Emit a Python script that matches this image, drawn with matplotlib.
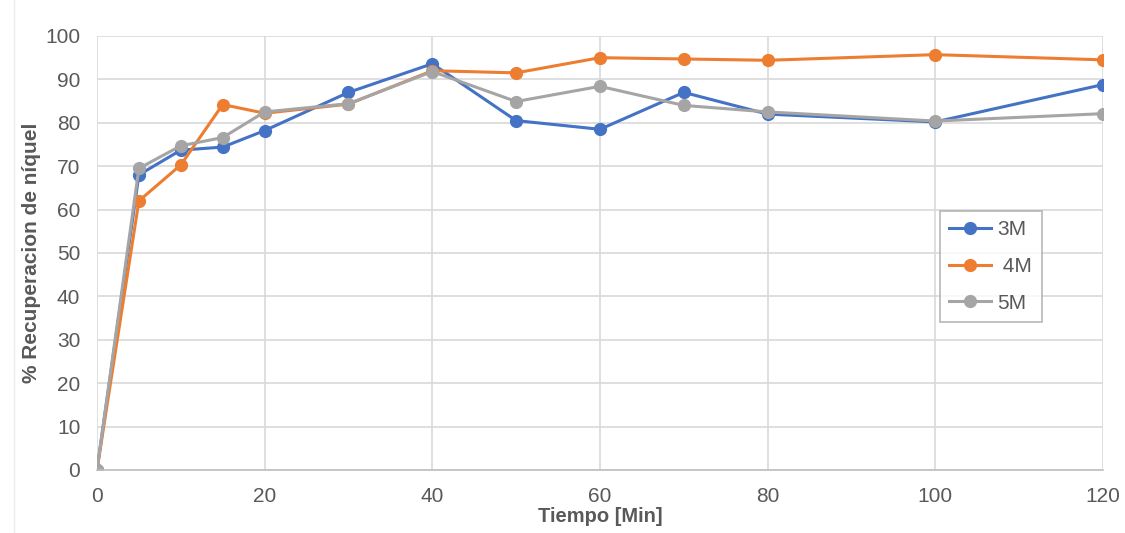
import matplotlib.pyplot as plt
from matplotlib.lines import Line2D

plt.rcParams['font.family'] = ['Liberation Sans', 'DejaVu Sans']

# Tiempo de lixiviación (min) y recuperación de níquel (%)
tiempo = [0, 5, 10, 15, 20, 30, 40, 50, 60, 70, 80, 100, 120]
rec_3m = [0, 68.0, 73.7, 74.4, 78.2, 87.0, 93.6, 80.5, 78.5, 87.0, 82.0, 80.2, 88.8]
rec_4m = [0, 62.0, 70.3, 84.2, 82.2, 84.3, 92.0, 91.5, 95.0, 94.7, 94.4, 95.7, 94.5]
rec_5m = [0, 69.5, 74.7, 76.6, 82.5, 84.4, 91.8, 84.9, 88.4, 84.0, 82.5, 80.4, 82.1]

series = [("3M", rec_3m, "#4472C4"),
          (" 4M", rec_4m, "#ED7D31"),
          ("5M", rec_5m, "#A5A5A5")]

fig = plt.figure(figsize=(11.25, 5.33), dpi=100)
ax = fig.add_axes([0.0862, 0.1182, 0.8942, 0.8143])

# faint chart-area border on the left
fig.add_artist(Line2D([0.012, 0.012], [0, 1], color="#EBEBEB", lw=1))

for label, vals, color in series:
    ax.plot(tiempo, vals, color=color, lw=2.2, marker="o", ms=8.5, label=label)

ax.set_xlim(0, 120)
ax.set_ylim(0, 100)
ax.set_xticks(range(0, 121, 20))
ax.set_yticks(range(0, 101, 10))
ax.grid(True, color="#D9D9D9", lw=1.2)
ax.set_axisbelow(True)
for side in ["top", "right", "left"]:
    ax.spines[side].set_visible(False)
ax.spines["bottom"].set_color("#BFBFBF")
ax.spines["bottom"].set_linewidth(1.2)
ax.tick_params(length=0, labelsize=15, colors="#595959", pad=12)

ax.set_xlabel("Tiempo [Min]", fontsize=14.5, fontweight="bold", color="#595959", labelpad=1)
ax.set_ylabel("% Recuperacion de níquel", fontsize=15, fontweight="bold", color="#595959", labelpad=3)

leg = ax.legend(loc="upper left", bbox_to_anchor=(0.838, 0.597), borderaxespad=0,
                fontsize=15, frameon=True, fancybox=False, handlelength=2.0,
                handletextpad=0.3, labelspacing=0.85, borderpad=0.45)
leg.get_frame().set_edgecolor("#A6A6A6")
leg.get_frame().set_linewidth(1.2)
for t in leg.get_texts():
    t.set_color("#595959")

fig.savefig("out.png", dpi=100)
